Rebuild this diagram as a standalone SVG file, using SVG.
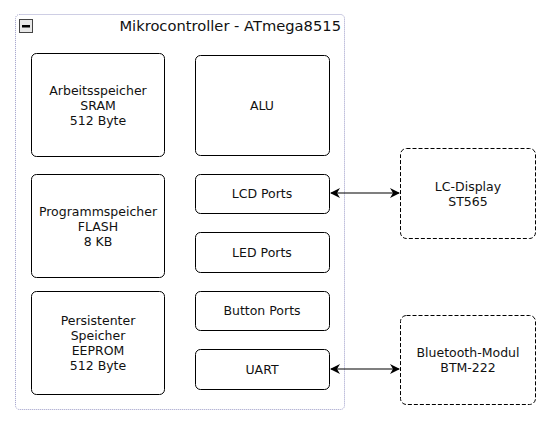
<svg xmlns="http://www.w3.org/2000/svg" width="551" height="426" viewBox="0 0 551 426">
<style>
text{font-family:"DejaVu Sans",sans-serif;font-size:12.5px;fill:#111;text-anchor:middle}
.b{fill:#fff;stroke:#000;stroke-width:1}
.d{fill:#fff;stroke:#000;stroke-width:1;stroke-dasharray:4,2}
.c{stroke:#000;stroke-width:1.2;fill:none;marker-start:url(#a);marker-end:url(#a)}
</style>
<defs>
<marker id="a" viewBox="0 0 10 10" refX="9" refY="5" markerWidth="10" markerHeight="10" markerUnits="userSpaceOnUse" orient="auto-start-reverse">
<path d="M0,0 L10,5 L0,10 L3,5 Z" fill="#000"/>
</marker>
</defs>
<rect width="551" height="426" fill="#fff"/>
<g id="container">
<rect x="15.5" y="14.5" width="329" height="395" rx="4" fill="#fff" stroke="#9c9cc8" stroke-width="1" stroke-dasharray="1,1"/>
<rect x="19.5" y="19.5" width="13" height="13" fill="#e8e8e8" stroke="#444"/>
<rect x="22" y="25" width="8" height="2.5" fill="#000"/>
<text x="341" y="31" style="font-size:14.7px;text-anchor:end">Mikrocontroller - ATmega8515</text>
</g>
<g id="sram">
<rect class="b" x="31.5" y="53.5" width="133" height="103" rx="5"/>
<text x="98" y="95">Arbeitsspeicher</text><text x="98" y="110">SRAM</text><text x="98" y="125">512 Byte</text>
</g>
<g id="flash">
<rect class="b" x="31.5" y="174.5" width="133" height="103" rx="5"/>
<text x="98" y="216">Programmspeicher</text><text x="98" y="231">FLASH</text><text x="98" y="246">8 KB</text>
</g>
<g id="eeprom">
<rect class="b" x="31.5" y="291.5" width="133" height="103" rx="5"/>
<text x="98" y="325">Persistenter</text><text x="98" y="340">Speicher</text><text x="98" y="355">EEPROM</text><text x="98" y="370">512 Byte</text>
</g>
<g id="alu">
<rect class="b" x="195.5" y="55.5" width="134" height="100" rx="5"/>
<text x="262" y="110">ALU</text>
</g>
<g id="lcdports">
<rect class="b" x="195.5" y="174.5" width="134" height="39" rx="5"/>
<text x="262" y="198">LCD Ports</text>
</g>
<g id="ledports">
<rect class="b" x="195.5" y="232.5" width="134" height="40" rx="5"/>
<text x="262" y="257">LED Ports</text>
</g>
<g id="buttonports">
<rect class="b" x="195.5" y="291.5" width="134" height="39" rx="5"/>
<text x="262" y="315">Button Ports</text>
</g>
<g id="uart">
<rect class="b" x="195.5" y="349.5" width="134" height="40" rx="5"/>
<text x="262" y="374">UART</text>
</g>
<g id="lcdisplay">
<rect class="d" x="400.5" y="148.5" width="135" height="90" rx="6"/>
<text x="468" y="191">LC-Display</text><text x="468" y="206">ST565</text>
</g>
<g id="bluetooth">
<rect class="d" x="400.5" y="315.5" width="135" height="89" rx="6"/>
<text x="468" y="357">Bluetooth-Modul</text><text x="468" y="372">BTM-222</text>
</g>
<g id="connectors">
<line class="c" x1="331" y1="193" x2="399" y2="193"/>
<line class="c" x1="331" y1="369" x2="399" y2="369"/>
</g>
</svg>
